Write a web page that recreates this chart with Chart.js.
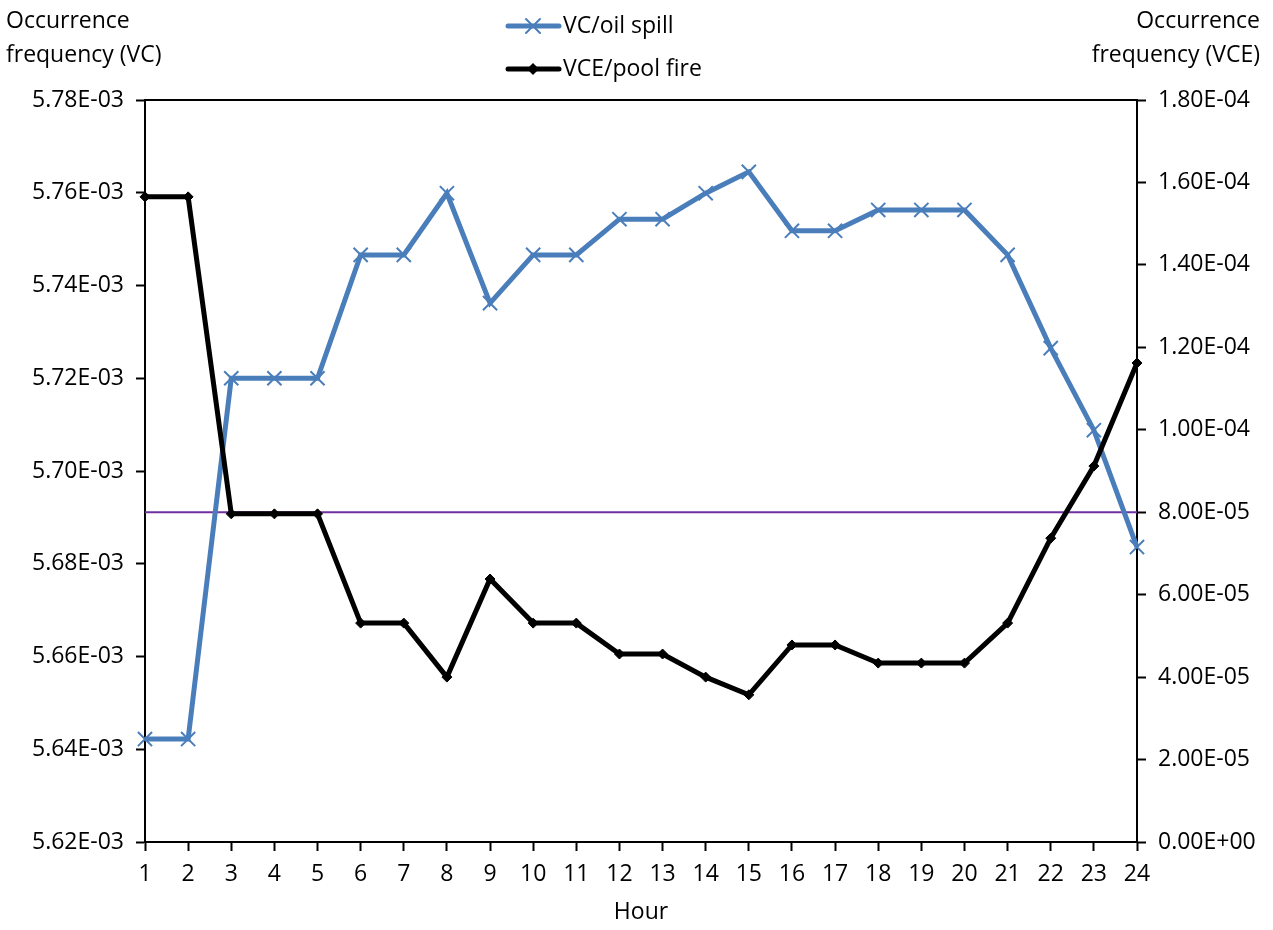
<!DOCTYPE html>
<html lang="en">
<head>
    <meta charset="UTF-8">
    <title>Occurrence frequency by hour</title>
    <script src="https://cdn.jsdelivr.net/npm/chart.js"></script>
    <style>
        html, body { margin: 0; padding: 0; background: #fff; }
        .chart-container { position: relative; width: 1273px; height: 930px; }
    </style>
</head>
<body>
    <div class="chart-container">
        <canvas id="lineChart"></canvas>
    </div>

    <script>
        var hours = ['1', '2', '3', '4', '5', '6', '7', '8', '9', '10', '11', '12',
            '13', '14', '15', '16', '17', '18', '19', '20', '21', '22', '23', '24'];

        // VC/oil spill, left axis
        var vcOilSpill = [5.6422e-3, 5.6422e-3, 5.7200e-3, 5.7200e-3, 5.7200e-3, 5.7466e-3,
            5.7466e-3, 5.7599e-3, 5.7362e-3, 5.7466e-3, 5.7466e-3, 5.7543e-3,
            5.7543e-3, 5.7599e-3, 5.7645e-3, 5.7518e-3, 5.7518e-3, 5.7563e-3,
            5.7563e-3, 5.7563e-3, 5.7466e-3, 5.7265e-3, 5.7088e-3, 5.6836e-3];

        // VCE/pool fire, right axis
        var vcePoolFire = [1.565e-4, 1.565e-4, 7.96e-5, 7.96e-5, 7.96e-5, 5.31e-5,
            5.31e-5, 4.00e-5, 6.38e-5, 5.31e-5, 5.31e-5, 4.56e-5,
            4.56e-5, 4.00e-5, 3.57e-5, 4.78e-5, 4.78e-5, 4.34e-5,
            4.34e-5, 4.34e-5, 5.31e-5, 7.37e-5, 9.12e-5, 1.162e-4];

        var thresholdVCE = 8.0e-5;

        var leftTicks = { min: 5.62e-3, max: 5.78e-3, step: 2e-5 };
        var rightTicks = { min: 0, max: 1.8e-4, step: 2e-5 };

        var fontFamily = "'Open Sans', 'Liberation Sans', sans-serif";
        var fontSize = 23;

        function sciLabel(v) {
            if (Math.abs(v) < 1e-12) return '0.00E+00';
            var s = Number(v).toExponential(2).split('e');
            var exp = parseInt(s[1], 10);
            var sign = exp < 0 ? '-' : '+';
            var e = Math.abs(exp);
            return s[0] + 'E' + sign + (e < 10 ? '0' + e : e);
        }

        // axis titles, legend and top border
        var extras = {
            id: 'extras',
            afterDraw: function (chart) {
                var ctx = chart.ctx;
                var area = chart.chartArea;
                ctx.save();
                ctx.strokeStyle = '#000';
                ctx.lineWidth = 2;
                ctx.beginPath();
                ctx.moveTo(area.left, area.top);
                ctx.lineTo(area.right, area.top);
                ctx.stroke();

                ctx.fillStyle = '#000';
                ctx.font = fontSize + 'px ' + fontFamily;
                ctx.textBaseline = 'middle';
                ctx.textAlign = 'left';
                ctx.fillText('Occurrence', 6, 21);
                ctx.fillText('frequency (VC)', 6, 55);
                ctx.textAlign = 'right';
                ctx.fillText('Occurrence', 1260, 21);
                ctx.fillText('frequency (VCE)', 1260, 55);

                var items = [
                    { text: chart.data.datasets[0].label, color: '#4a7ebb', y: 26, marker: 'x' },
                    { text: chart.data.datasets[1].label, color: '#000', y: 69, marker: 'd' }
                ];
                items.forEach(function (it) {
                    ctx.strokeStyle = it.color;
                    ctx.lineWidth = 5;
                    ctx.lineCap = 'round';
                    ctx.beginPath();
                    ctx.moveTo(508, it.y);
                    ctx.lineTo(559, it.y);
                    ctx.stroke();
                    var cx = 533;
                    if (it.marker === 'x') {
                        ctx.lineWidth = 2;
                        ctx.beginPath();
                        ctx.moveTo(cx - 7, it.y - 7); ctx.lineTo(cx + 7, it.y + 7);
                        ctx.moveTo(cx - 7, it.y + 7); ctx.lineTo(cx + 7, it.y - 7);
                        ctx.stroke();
                    } else {
                        ctx.fillStyle = it.color;
                        ctx.beginPath();
                        ctx.moveTo(cx, it.y - 6); ctx.lineTo(cx + 6, it.y);
                        ctx.lineTo(cx, it.y + 6); ctx.lineTo(cx - 6, it.y);
                        ctx.closePath();
                        ctx.fill();
                    }
                    ctx.fillStyle = '#000';
                    ctx.textAlign = 'left';
                    ctx.fillText(it.text, 563, it.y);
                });
                ctx.restore();
            }
        };

        var lineChartData = {
            labels: hours,
            datasets: [{
                label: 'VC/oil spill',
                data: vcOilSpill,
                yAxisID: 'yLeft',
                borderColor: '#4a7ebb',
                backgroundColor: '#4a7ebb',
                borderWidth: 5,
                pointStyle: 'cross',
                rotation: 45,
                pointRadius: 10,
                pointBorderWidth: 2,
                pointHoverRadius: 10,
                tension: 0,
                order: 2
            }, {
                label: 'VCE/pool fire',
                data: vcePoolFire,
                yAxisID: 'yRight',
                borderColor: '#000',
                backgroundColor: '#000',
                borderWidth: 5,
                pointStyle: 'rectRot',
                pointRadius: 5,
                pointBorderWidth: 1,
                pointHoverRadius: 5,
                tension: 0,
                order: 1
            }, {
                label: 'threshold',
                data: hours.map(function () { return thresholdVCE; }),
                yAxisID: 'yRight',
                borderColor: '#7030a0',
                borderWidth: 2,
                pointRadius: 0,
                pointHoverRadius: 0,
                order: 3
            }]
        };

        var tickFont = { size: fontSize, family: fontFamily };

        var lineChartConfig = {
            type: 'line',
            data: lineChartData,
            plugins: [extras],
            options: {
                responsive: false,
                animation: false,
                layout: { padding: { top: 100, left: 0, right: 0, bottom: 0 } },
                plugins: {
                    legend: { display: false },
                    tooltip: { enabled: false }
                },
                scales: {
                    x: {
                        type: 'category',
                        offset: false,
                        grid: {
                            drawOnChartArea: false,
                            drawTicks: true,
                            tickLength: 9,
                            tickWidth: 2,
                            color: '#000'
                        },
                        border: { color: '#000', width: 2 },
                        ticks: {
                            color: '#000',
                            font: tickFont,
                            padding: 10,
                            maxRotation: 0,
                            autoSkip: false
                        },
                        title: {
                            display: true,
                            text: 'Hour',
                            color: '#000',
                            font: tickFont,
                            padding: { top: 0 }
                        },
                        afterFit: function (scale) { scale.height = 88; }
                    },
                    yLeft: {
                        position: 'left',
                        min: leftTicks.min,
                        max: leftTicks.max,
                        grid: {
                            drawOnChartArea: false,
                            tickLength: 9,
                            tickWidth: 2,
                            color: '#000'
                        },
                        border: { color: '#000', width: 2 },
                        ticks: {
                            stepSize: leftTicks.step,
                            color: '#000',
                            font: tickFont,
                            padding: 12,
                            callback: function (v) { return sciLabel(v); }
                        },
                        afterFit: function (scale) { scale.width = 145; }
                    },
                    yRight: {
                        position: 'right',
                        min: rightTicks.min,
                        max: rightTicks.max,
                        grid: {
                            drawOnChartArea: false,
                            tickLength: 9,
                            tickWidth: 2,
                            color: '#000'
                        },
                        border: { color: '#000', width: 2 },
                        ticks: {
                            stepSize: rightTicks.step,
                            color: '#000',
                            font: tickFont,
                            padding: 12,
                            callback: function (v) { return sciLabel(v); }
                        },
                        afterFit: function (scale) { scale.width = 136; }
                    }
                }
            }
        };

        var canvas = document.getElementById('lineChart');
        canvas.width = 1273;
        canvas.height = 930;
        var lineChart = new Chart(canvas.getContext('2d'), lineChartConfig);
    </script>
</body>
</html>
